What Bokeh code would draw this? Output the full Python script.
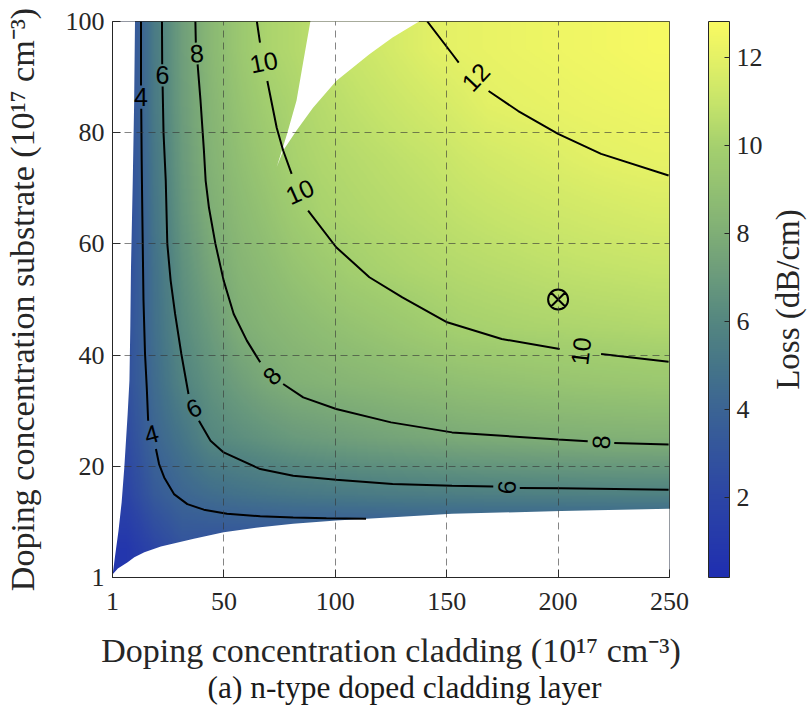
import numpy as np
from bokeh.plotting import figure
from bokeh.layouts import row
from bokeh.models import LinearColorMapper, ColorBar, FixedTicker, Title
from bokeh.core.properties import value
from bokeh.embed import file_html
from bokeh.resources import INLINE

# ---------------- data ----------------
# tick positions (the first tick sits on the axis edge and is labelled "1")
x_ticks = [0, 50, 100, 150, 200, 250]
x_tick_labels = ["1", "50", "100", "150", "200", "250"]
y_ticks = [0, 20, 40, 60, 80, 100]
y_tick_labels = ["1", "20", "40", "60", "80", "100"]
x_grid_ticks = [50, 100, 150, 200]
y_grid_ticks = [20, 40, 60, 80]
cbar_ticks = [2, 4, 6, 8, 10, 12]
loss_min, loss_max = 0.19, 12.82

# loss (dB/cm) at x = 6.25 .. 243.75 (step 12.5), one list per row y
cell_x = [6.25, 18.75, 31.25, 43.75, 56.25, 68.75, 81.25, 93.75, 106.25, 118.75,
          131.25, 143.75, 156.25, 168.75, 181.25, 193.75, 206.25, 218.75, 231.25, 243.75]
cell_y = [5, 15, 25, 35, 45, 55, 65, 75, 85, 95]
loss_y05 = [0.8, 2.0, 2.9, 2.7, 2.64, 2.5, 2.5, 2.41, 2.35, 2.29, 2.4, 2.4, 2.35, 2.3, 2.3, 2.25, 2.25, 2.2, 2.2, 2.2]
loss_y15 = [1.9, 3.4, 4.15, 4.55, 4.8, 5.0, 5.15, 5.25, 5.32, 5.4, 5.45, 5.5, 5.55, 5.6, 5.62, 5.65, 5.67, 5.7, 5.72, 5.72]
loss_y25 = [2.4, 4.08, 5.0, 6.02, 6.35, 6.65, 6.95, 7.12, 7.28, 7.42, 7.55, 7.67, 7.8, 7.87, 7.93, 8.0, 8.04, 8.09, 8.11, 8.14]
loss_y35 = [2.75, 4.45, 5.82, 6.55, 7.2, 7.75, 8.1, 8.24, 8.4, 8.53, 8.68, 8.78, 8.95, 9.04, 9.13, 9.22, 9.3, 9.36, 9.41, 9.47]
loss_y45 = [2.7, 4.65, 6.2, 7.05, 7.95, 8.32, 8.6, 8.87, 9.12, 9.34, 9.56, 9.78, 9.98, 10.06, 10.13, 10.18, 10.22, 10.27, 10.31, 10.37]
loss_y55 = [2.5, 4.75, 6.45, 7.55, 8.3, 8.7, 9.15, 9.5, 9.85, 10.05, 10.2, 10.32, 10.43, 10.52, 10.6, 10.7, 10.78, 10.85, 10.9, 10.97]
loss_y65 = [2.35, 4.95, 6.75, 7.97, 8.6, 9.1, 9.67, 10.08, 10.25, 10.4, 10.53, 10.66, 10.82, 10.95, 11.07, 11.18, 11.28, 11.38, 11.47, 11.56]
loss_y75 = [2.4, 5.1, 6.95, 8.2, 8.9, 9.48, 10.06, 10.3, 10.47, 10.63, 10.8, 10.96, 11.2, 11.38, 11.52, 11.65, 11.8, 11.93, 12.02, 12.08]
loss_y85 = [2.45, 5.25, 7.1, 8.35, 9.15, 9.82, 10.2, 10.5, 10.75, 10.98, 11.2, 11.42, 11.66, 11.93, 12.02, 12.1, 12.2, 12.27, 12.33, 12.4]
loss_y95 = [2.47, 5.3, 7.2, 8.5, 9.4, 10.15, 10.4, 10.72, 11.05, 11.3, 11.6, 11.9, 12.05, 12.15, 12.25, 12.33, 12.42, 12.5, 12.6, 12.7]

nan = float("nan")
# contour lines (nan = gap left for the inline label)
c4_x = [12.8, 12.8, nan, 12.9, 13.1, 13.4, 13.9, 14.6, 15.4, 16.0, nan, 19.5, 20.9, 23.2, 27.6, 33.6, 41.0, 51.4, 66.3, 81.1, 96.0, 113.8]
c4_y = [100, 88.5, nan, 84.3, 75, 65, 50, 40.2, 34, 28.2, nan, 23.1, 20.4, 18.0, 15.0, 13.2, 12.2, 11.45, 11.0, 10.8, 10.66, 10.55]
c6_x = [22.2, 22.3, nan, 22.5, 22.9, 23.9, 24.6, 26.1, 28.1, 30.9, 34.1, nan, 38.8, 44.0, 49.9, 66.3, 81.1, 100.4, 125.7, 152.4, 170.9, nan, 182.8, 201.4, 249.6]
c6_y = [100, 92.3, nan, 88.3, 80, 71.4, 60, 53.4, 47.4, 40.2, 33.0, nan, 28.2, 24.6, 22.5, 19.5, 18.3, 17.6, 16.8, 16.5, 16.36, nan, 16.1, 16.05, 15.8]
c8_x = [37.2, 37.4, nan, 38.2, 39.5, 41.0, 41.8, 43.3, 46.2, 49.9, 54.4, 60.3, 66.3, nan, 76.6, 85.6, 100.4, 125.0, 152.4, 200.0, 213.3, nan, 225.2, 249.6]
c8_y = [100, 96.2, nan, 92.3, 85.8, 77, 71.4, 66.5, 60, 53.4, 47.4, 42.6, 38.7, nan, 34.8, 32.4, 30.3, 27.9, 26.1, 24.8, 24.5, nan, 24.2, 23.9]
c10_x = [64.8, 66.2, nan, 69.5, 73.7, 76.6, 80.4, nan, 87.8, 100.4, 115.3, 130.1, 150.2, 174.7, 200.7, nan, 219.3, 249.6]
c10_y = [100, 96.2, nan, 89.3, 80.9, 76.8, 72.6, nan, 66.0, 59.4, 54.0, 50.4, 45.9, 42.9, 41.1, nan, 40.2, 38.8]
c12_x = [141.3, 152.4, 155.4, nan, 168.8, 182.1, 200.0, 219.3, 249.6]
c12_y = [100, 94.2, 92.6, nan, 87.5, 83.9, 79.8, 76.2, 72.3]

lab_text = ["4", "6", "8", "10", "10", "12", "4", "6", "8", "10", "8", "6"]
lab_x = [12.8, 22.4, 37.8, 67.9, 84.1, 163.0, 17.4, 36.5, 71.6, 210.2, 219.3, 176.9]
lab_y = [86.4, 90.3, 94.3, 92.7, 69.4, 90.0, 25.8, 30.5, 36.3, 40.7, 24.35, 16.2]
lab_angle_deg = [0, 0, 4, 11, 24, 47, 15, 25, 47, 83, 86, 87]

# regions without data (white)
left_edge_x = [-2, 0.1, 1.2, 2.7, 4.1, 5.3, 6.8, 7.6, 8.0, 8.3, 9.1, 9.7, 10.1, 10.1, -2]
left_edge_y = [-2, 0.6, 4, 8.4, 13.5, 19.8, 29.4, 35.4, 45, 55.7, 71.4, 85, 100, 102, 102]
bottom_edge_x = [-2, 0.1, 2.4, 6.8, 9.8, 14.3, 21.7, 36.5, 49.9, 66.3, 81.1, 100.4, 125.7, 152.4, 201.4, 249.6, 252, 252]
bottom_edge_y = [-2, 0.6, 1.6, 2.75, 3.65, 4.55, 5.57, 6.96, 8.14, 9.04, 9.65, 10.25, 10.84, 11.45, 11.95, 12.35, 12.4, -2]
wedge_x = [88.8, 88.8, 85.5, 82.6, 78.5, 73.7, 76.6, 82.6, 90.0, 100.4, 115.3, 125.7, 137.6, 137.6]
wedge_y = [102, 100, 92.5, 85.8, 80.0, 73.8, 76.8, 80.4, 84.5, 89.3, 94.1, 97.1, 100, 102]

design_x = [200]
design_y = [50]

# colour map anchors
cmap_levels = [0.19, 1, 2, 3, 4, 5, 6, 7, 8, 9, 10, 11, 12, 12.82]
cmap_colors = ["#1f2eb1", "#2539ab", "#2c45a5", "#33549d", "#3b6494", "#457588", "#548680",
               "#6a9a7c", "#7fae76", "#92c072", "#a5d06e", "#c6e46a", "#e4f166", "#f9fa62"]

# ---------------- figure ----------------
rgb = np.array([[int(c[i:i + 2], 16) for i in (1, 3, 5)] for c in cmap_colors], dtype=float)
lv = np.linspace(loss_min, loss_max, 256)
palette = ["#%02x%02x%02x" % tuple(int(round(np.interp(v, cmap_levels, rgb[:, k]))) for k in range(3)) for v in lv]
mapper = LinearColorMapper(palette=palette, low=loss_min, high=loss_max)

H = 720
W_SIDE = 40
W = 807 - W_SIDE
FL, FT, FW, FH = 108, 21, 561, 556
p = figure(width=W, height=H, x_range=(0, 250), y_range=(0, 100),
           output_backend="svg", toolbar_location=None,
           min_border_left=FL, min_border_right=W - FL - FW,
           min_border_top=FT, min_border_bottom=H - FT - FH)
p.background_fill_color = "white"
p.border_fill_color = "white"
p.outline_line_color = "#262626"
p.outline_line_alpha = 1

# field sampled on the read cells; rendered with interpolated shading (like "shading interp")
grid = np.array([loss_y05, loss_y15, loss_y25, loss_y35, loss_y45,
                 loss_y55, loss_y65, loss_y75, loss_y85, loss_y95])
px_x = (np.arange(500) + 0.5) * 0.5
px_y = (np.arange(400) + 0.5) * 0.25
rows = np.array([np.interp(px_x, cell_x, r) for r in grid])
shade = np.array([np.interp(px_y, cell_y, rows[:, j]) for j in range(rows.shape[1])]).T.astype(np.float32)
p.image(image=[shade], x=0, y=0, dw=250, dh=100, color_mapper=mapper)

for ex, ey in ((left_edge_x, left_edge_y), (bottom_edge_x, bottom_edge_y), (wedge_x, wedge_y)):
    p.patch(ex, ey, fill_color="white", line_color=None)

for cx, cy in ((c4_x, c4_y), (c6_x, c6_y), (c8_x, c8_y), (c10_x, c10_y), (c12_x, c12_y)):
    p.line(cx, cy, line_color="black", line_width=2)

p.text(x=lab_x, y=lab_y, text=lab_text, angle=[np.deg2rad(a) for a in lab_angle_deg],
       text_font=value("Liberation Sans"), text_font_size="25px",
       text_align="center", text_baseline="middle", text_color="black")

p.scatter(design_x, design_y, marker="circle_x", size=20, line_color="black",
          fill_alpha=0, line_width=2)

xax = p.xaxis[0]
yax = p.yaxis[0]
for ax, ticks, labels in ((xax, x_ticks, x_tick_labels), (yax, y_ticks, y_tick_labels)):
    ax.ticker = FixedTicker(ticks=ticks)
    ax.major_label_overrides = {t: s for t, s in zip(ticks, labels)}
    ax.major_label_text_font = "Liberation Serif"
    ax.major_label_text_font_size = "26px"
    ax.major_label_text_color = "#262626"
    ax.axis_line_color = "#262626"
    ax.major_tick_line_color = "#262626"
    ax.major_tick_in = 8
    ax.major_tick_out = 0
    ax.minor_tick_line_color = None
    ax.axis_label_text_font = "Liberation Serif"
    ax.axis_label_text_font_size = "34px"
    ax.axis_label_text_font_style = "normal"
    ax.axis_label_text_color = "#262626"
xax.major_label_standoff = 15
yax.major_label_standoff = 8
xax.axis_label = "Doping concentration cladding (10\u00b9\u2077 cm\u207b\u00b3)"
yax.axis_label = "Doping concentration substrate (10\u00b9\u2077 cm\u207b\u00b3)"
xax.axis_label_standoff = 19
yax.axis_label_standoff = 22

p.xgrid.ticker = FixedTicker(ticks=x_grid_ticks)
p.ygrid.ticker = FixedTicker(ticks=y_grid_ticks)
for g in (p.xgrid, p.ygrid):
    g.grid_line_color = "#333333"
    g.grid_line_alpha = 0.6
    g.grid_line_dash = "7 5"
    g.grid_line_width = 1
    g.level = "overlay"

cb = ColorBar(color_mapper=mapper, ticker=FixedTicker(ticks=cbar_ticks),
              width=21, height=FH, padding=0, margin=0, location=(596, 0),
              major_tick_in=5, major_tick_out=0, major_tick_line_color="#262626",
              minor_tick_line_color=None, bar_line_color="#262626", bar_line_width=1,
              major_label_text_font="Liberation Serif", major_label_text_font_size="26px",
              major_label_text_color="#262626", label_standoff=7,
              background_fill_alpha=0, border_line_color=None)
p.add_layout(cb, "center")

cap = Title(text="(a) n-type doped cladding layer", align="left", offset=95,
            text_font="Liberation Serif", text_font_size="31.4px", text_font_style="normal",
            text_color="#1a1a1a")
try:
    cap.standoff = -7
except Exception:
    cap.standoff = 0
p.add_layout(cap, "below")

# narrow strip on the right carrying the colour-bar label (reads bottom to top)
side = figure(width=W_SIDE, height=H, output_backend="svg", toolbar_location=None,
              x_axis_location=None, y_axis_location=None,
              min_border_left=0, min_border_right=0,
              min_border_top=FT, min_border_bottom=H - FT - FH)
side.outline_line_color = None
side.background_fill_color = "white"
side.border_fill_color = "white"
side.grid.visible = False
side.add_layout(Title(text="Loss (dB/cm)", align="center", standoff=0,
                      text_font="Liberation Serif", text_font_size="33px",
                      text_font_style="normal", text_color="#262626"), "left")

layout = row(p, side)
open("out.html", "w").write(file_html(layout, INLINE))
